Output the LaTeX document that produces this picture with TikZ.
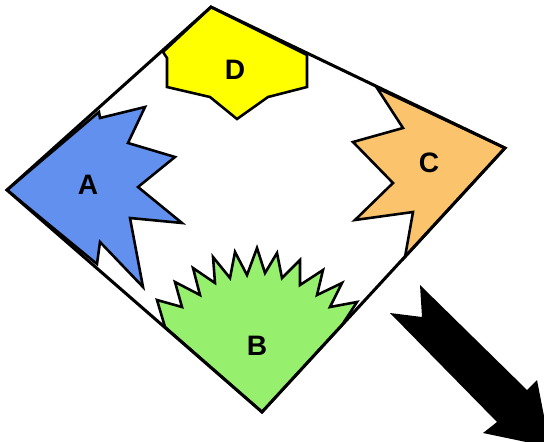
\documentclass[tikz,border=0pt]{standalone}
\usepackage{fontspec}
\setmainfont{Liberation Sans}
\usepackage{tikz}

\definecolor{blueA}{RGB}{98,144,238}
\definecolor{greenB}{RGB}{150,240,110}
\definecolor{orangeC}{RGB}{250,195,108}
\definecolor{yellowD}{RGB}{255,255,0}

\begin{document}
\begin{tikzpicture}[x=0.03cm, y=-0.03cm,
    piece/.style={draw=black, line width=2.2pt, line join=miter},
    lbl/.style={font=\fontsize{24}{28}\selectfont\bfseries}]
            \useasboundingbox (0,0) rectangle (544,441);
            \coordinate (L) at (7,190);
            \coordinate (T) at (211,7);
            \coordinate (R) at (505,148);
            \coordinate (Bt) at (262,412);
            % the four pieces
            \filldraw[piece, fill=blueA] (L) -- (99,112) -- (100,118) -- (145,107) -- (128,143) -- (175,157)
                -- (138,187) -- (182,223) -- (130,218) -- (143,287) -- (100,242) -- (97,264) -- cycle;
            \filldraw[piece, fill=yellowD] (T) -- (307,55) -- (307,87) -- (268,97) -- (237,119) -- (210,97)
                -- (167,87) -- (167,58) -- (163,52) -- cycle;
            \filldraw[piece, fill=orangeC] (R) -- (377,88) -- (403,128) -- (353,142) -- (393,183) -- (355,220)
                -- (413,212) -- (405,257) -- cycle;
            \filldraw[piece, fill=greenB] (Bt) -- (165,327) -- (157,300) -- (182,307) -- (175,282) -- (200,295)
                -- (193,268) -- (215,283) -- (213,257) -- (230,278) -- (235,252) -- (247,275) -- (257,248)
                -- (265,273) -- (277,253) -- (282,278) -- (300,260) -- (300,285) -- (323,270) -- (317,295)
                -- (342,283) -- (330,307) -- (357,302) -- (342,325) -- cycle;
            \draw[line width=2.6pt, line join=miter] (L) -- (T) -- (R) -- (Bt) -- cycle;
            \node[lbl] (labA) at (88,185) {A};
            \node[lbl] (labB) at (257,346) {B};
            \node[lbl] (labC) at (429,163) {C};
            \node[lbl] (labD) at (235,70) {D};
            % big arrow
            \fill (420,285) -- (422,317) -- (390,313) -- (497,422) -- (483,433) -- (550,447)
                -- (537,380) -- (527,390) -- cycle;
        \end{tikzpicture}
\end{document}
